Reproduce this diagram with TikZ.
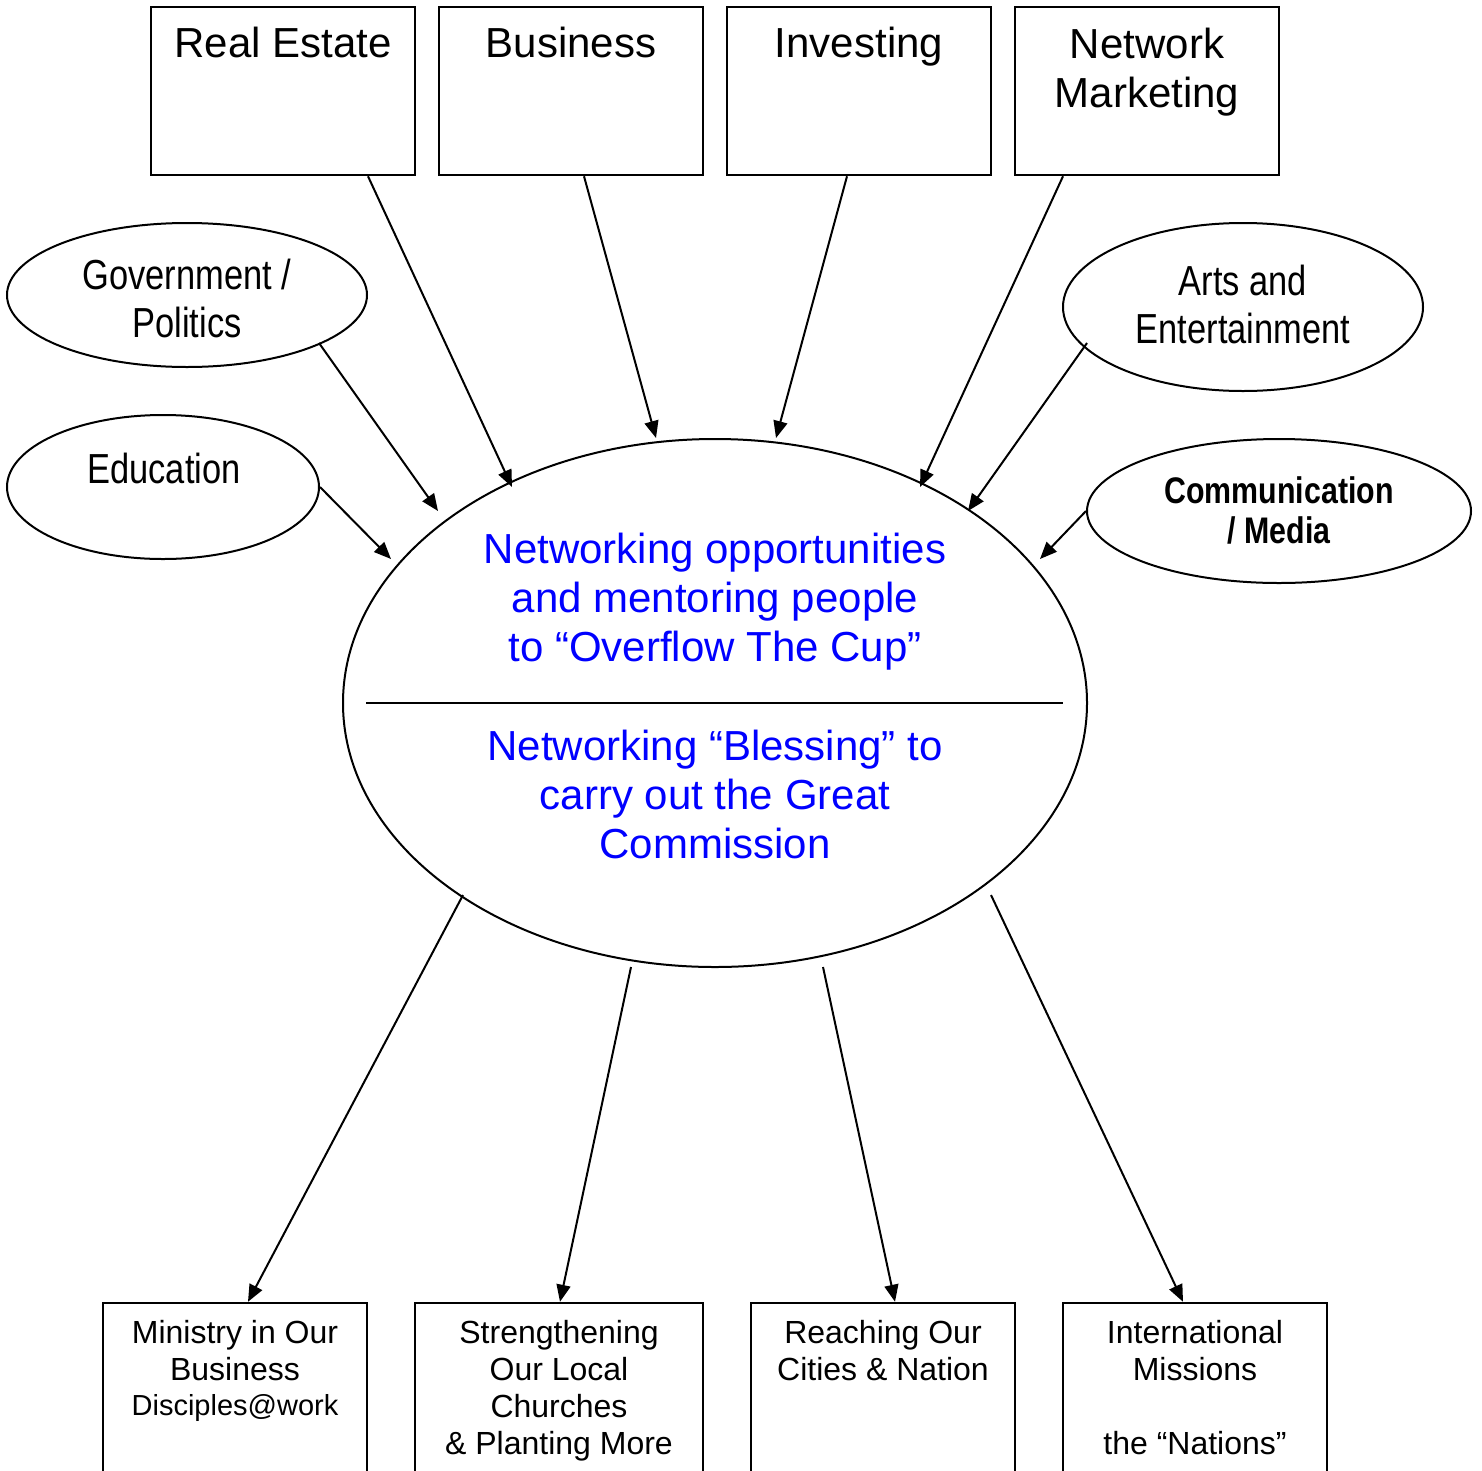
\documentclass[tikz,border=0pt]{standalone}
\usepackage{fontspec}
\setmainfont{Liberation Sans}
\newfontfamily\narrowfont[FakeStretch=0.82]{Liberation Sans}
\usetikzlibrary{shapes.geometric,arrows.meta,calc}
\definecolor{netblue}{RGB}{0,0,255}
\begin{document}
\begin{tikzpicture}[x=1pt,y=-1pt,
  topbox/.style={draw, line width=2.5pt, rectangle, minimum width=264pt, minimum height=168pt, inner sep=0},
  botbox/.style={draw, line width=2.5pt, rectangle, minimum height=257pt, inner sep=0},
  oval/.style={draw, ellipse, line width=2pt, inner sep=0},
  link/.style={line width=2pt, -{Triangle[length=17pt,width=14pt]}},
  toptxt/.style={font=\fontsize{42}{49}\selectfont, align=center, inner sep=0, anchor=north},
  bluetxt/.style={font=\fontsize{42}{49}\selectfont, text=netblue, align=center, inner sep=0, anchor=north},
  narrowtxt/.style={font=\narrowfont\fontsize{42}{48}\selectfont, align=center, inner sep=0, anchor=north},
  boldnarrowtxt/.style={font=\narrowfont\bfseries\fontsize{37}{40}\selectfont, align=center, inner sep=0, anchor=north},
  bottxt/.style={font=\fontsize{32}{37}\selectfont, align=center, inner sep=0, anchor=north}]
\fill[white] (0,0) rectangle (1482,1470);
\useasboundingbox (0,0) rectangle (1482,1470);

% top boxes
\node[topbox] (re)  at (283,91) {};
\node[topbox] (bus) at (571,91) {};
\node[topbox] (inv) at (859,91) {};
\node[topbox] (nm)  at (1147,91) {};
\node[toptxt] (retxt)  at (283,27) {Real Estate};
\node[toptxt] (bustxt) at (571,27) {Business};
\node[toptxt] (invtxt) at (859,27) {Investing};
\node[toptxt] (nmtxt)  at (1147,28) {Network\\Marketing};

% ellipses
\node[oval, minimum width=744pt, minimum height=528pt] (main) at (715,703) {};
\node[oval, minimum width=360pt, minimum height=144pt] (gov)  at (187,295) {};
\node[oval, minimum width=312pt, minimum height=144pt] (edu)  at (163,487) {};
\node[oval, minimum width=360pt, minimum height=168pt] (arts) at (1243,307) {};
\node[oval, minimum width=384pt, minimum height=144pt] (comm) at (1279,511) {};

\draw[line width=2pt] ($(main.center)+(-349,0)$) -- ($(main.center)+(348,0)$);

\node[bluetxt] (up)  at (715,533) {Networking opportunities\\and mentoring people\\to “Overflow The Cup”};
\node[bluetxt] (low) at (715,730) {Networking “Blessing” to\\carry out the Great\\Commission};

\node[narrowtxt] (govtxt)  at (187,259) {Government /\\Politics};
\node[narrowtxt] (edutxt)  at (164,453) {Education};
\node[narrowtxt] (artstxt) at (1243,265) {Arts and\\Entertainment};
\node[boldnarrowtxt] (commtxt) at (1279,476) {Communication\\/ Media};

% bottom boxes
\node[botbox, minimum width=264pt] (b1) at (235,1431.5) {};
\node[botbox, minimum width=288pt] (b2) at (559,1431.5) {};
\node[botbox, minimum width=264pt] (b3) at (883,1431.5) {};
\node[botbox, minimum width=264pt] (b4) at (1195,1431.5) {};
\node[bottxt] (b1txt) at (235,1320) {Ministry in Our\\Business\\[-2pt]{\fontsize{29}{35}\selectfont Disciples@work}};
\node[bottxt] (b2txt) at (559,1320) {Strengthening\\Our Local\\Churches\\\& Planting More};
\node[bottxt] (b3txt) at (883,1320) {Reaching Our\\Cities \& Nation};
\node[bottxt] (b4txt) at (1195,1320) {International\\Missions\\[37pt]the “Nations”};

% incoming arrows
\draw[link] ($(re.south)+(85,0)$)   -- ($(main.center)+(-203,-216)$);
\draw[link] ($(bus.south)+(13,0)$)  -- ($(main.center)+(-59,-265)$);
\draw[link] ($(inv.south)+(-12,0)$) -- ($(main.center)+(61,-265)$);
\draw[link] ($(nm.south)+(-84,0)$)  -- ($(main.center)+(205,-216)$);
\draw[link] ($(gov.center)+(132,48)$) -- ($(main.center)+(-277,-192)$);
\draw[link] (edu.east) -- ($(main.center)+(-324,-144)$);
\draw[link] ($(arts.center)+(-156,36)$) -- ($(main.center)+(253,-192)$);
\draw[link] (comm.west) -- ($(main.center)+(325,-144)$);

% outgoing arrows
\draw[link] ($(main.center)+(-252,192)$) -- ($(b1.north)+(13,0)$);
\draw[link] ($(main.center)+(-84,264)$)  -- ($(b2.north)+(1,0)$);
\draw[link] ($(main.center)+(108,264)$)  -- ($(b3.north)+(12,0)$);
\draw[link] ($(main.center)+(276,192)$)  -- ($(b4.north)+(-12,0)$);
\end{tikzpicture}
\end{document}
